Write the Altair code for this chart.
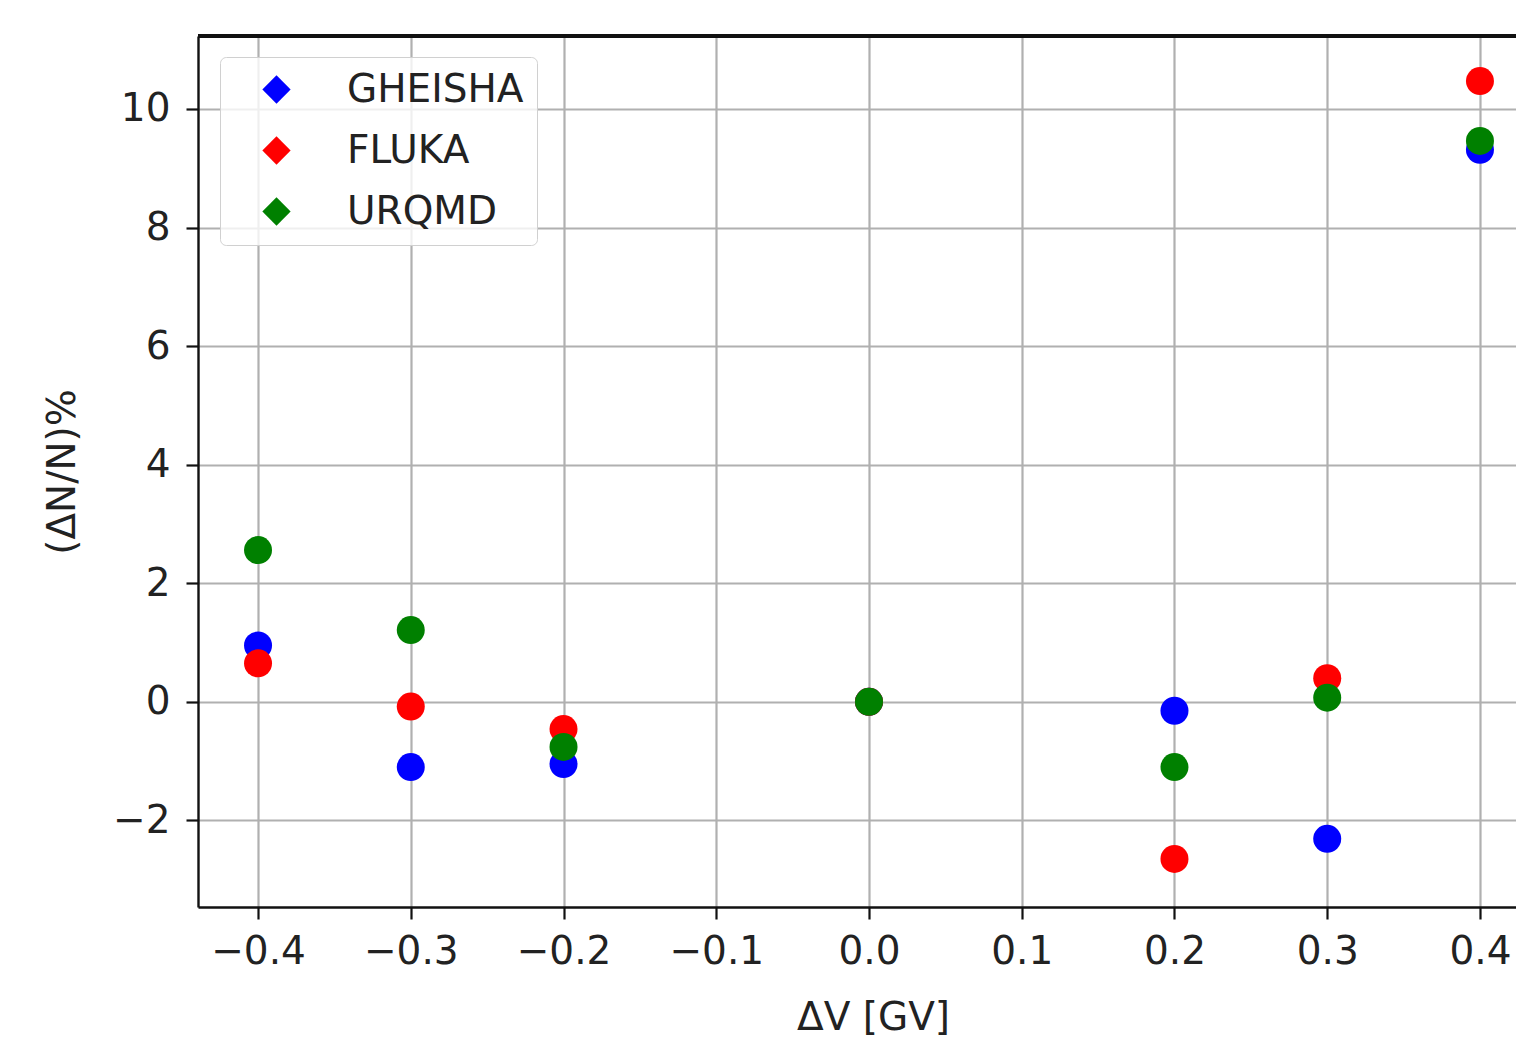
import altair as alt
import pandas as pd

x_values = [-0.4, -0.3, -0.2, 0.0, 0.2, 0.3, 0.4]
gheisha = [0.95, -1.10, -1.05, 0.0, -0.15, -2.31, 9.31]
fluka = [0.65, -0.08, -0.46, 0.0, -2.65, 0.40, 10.47]
urqmd = [2.56, 1.21, -0.76, 0.0, -1.10, 0.07, 9.46]
series_names = ["GHEISHA", "FLUKA", "URQMD"]
series_colors = ["#0000ff", "#ff0000", "#008000"]
x_ticks = [-0.4, -0.3, -0.2, -0.1, 0.0, 0.1, 0.2, 0.3, 0.4]
y_ticks = [-2, 0, 2, 4, 6, 8, 10]

rows = []
for i, (name, vals) in enumerate(zip(series_names, [gheisha, fluka, urqmd])):
    for xv, yv in zip(x_values, vals):
        rows.append({"dV": xv, "val": yv, "model": name, "ord": i})
df = pd.DataFrame(rows)

W, H = 1318, 871
FONT = "DejaVu Sans"
TXT = "#222222"

points = alt.Chart(df).mark_circle(size=784, opacity=1).encode(
    x=alt.X("dV:Q",
            scale=alt.Scale(domain=[-0.4393, 0.4236], nice=False, zero=False),
            axis=alt.Axis(values=x_ticks, format=".1f", title="ΔV [GV]",
                          grid=True, gridColor="#b0b0b0", gridWidth=2.2,
                          domainColor="#111111", domainWidth=2.4,
                          tickColor="#111111", tickWidth=2.2, tickSize=12,
                          labelFont=FONT, labelFontSize=39, labelColor=TXT,
                          labelPadding=13, labelFlush=False,
                          titleFont=FONT, titleFontSize=39, titleColor=TXT,
                          titleFontWeight="normal", titlePadding=27,
                          titleX=675)),
    y=alt.Y("val:Q",
            scale=alt.Scale(domain=[-3.46, 11.23], nice=False, zero=False),
            axis=alt.Axis(values=y_ticks, format="d", title="(ΔN/N)%",
                          grid=True, gridColor="#b0b0b0", gridWidth=2.2,
                          domainColor="#111111", domainWidth=2.4,
                          tickColor="#111111", tickWidth=2.2, tickSize=12,
                          labelFont=FONT, labelFontSize=39, labelColor=TXT,
                          labelPadding=16, labelFlush=False,
                          titleFont=FONT, titleFontSize=39, titleColor=TXT,
                          titleFontWeight="normal", titlePadding=30)),
    color=alt.Color("model:N",
                    scale=alt.Scale(domain=series_names, range=series_colors),
                    legend=alt.Legend(title=None, orient="none", legendX=22, legendY=21,
                                      symbolType="diamond", symbolSize=800,
                                      symbolOpacity=1, symbolStrokeWidth=0,
                                      symbolOffset=24, labelOffset=51, labelLimit=0,
                                      labelFont=FONT, labelFontSize=39, labelColor=TXT,
                                      rowPadding=21, padding=13,
                                      strokeColor="#d0d0d0", cornerRadius=6,
                                      fillColor="rgba(255,255,255,0.8)")),
    order=alt.Order("ord:Q"),
)

top_spine = alt.Chart(df).mark_rule(color="#111111", strokeWidth=2.4).encode(
    x=alt.value(0), x2=alt.value(W), y=alt.value(0)
)

chart = alt.layer(points, top_spine).properties(
    width=W, height=H,
    autosize=alt.AutoSizeParams(type="none"),
    padding={"left": 198, "top": 36, "right": 0, "bottom": 138},
).configure_view(stroke=None).configure(background="white")

chart.save("out.html", embed_options={"renderer": "svg", "actions": False})
